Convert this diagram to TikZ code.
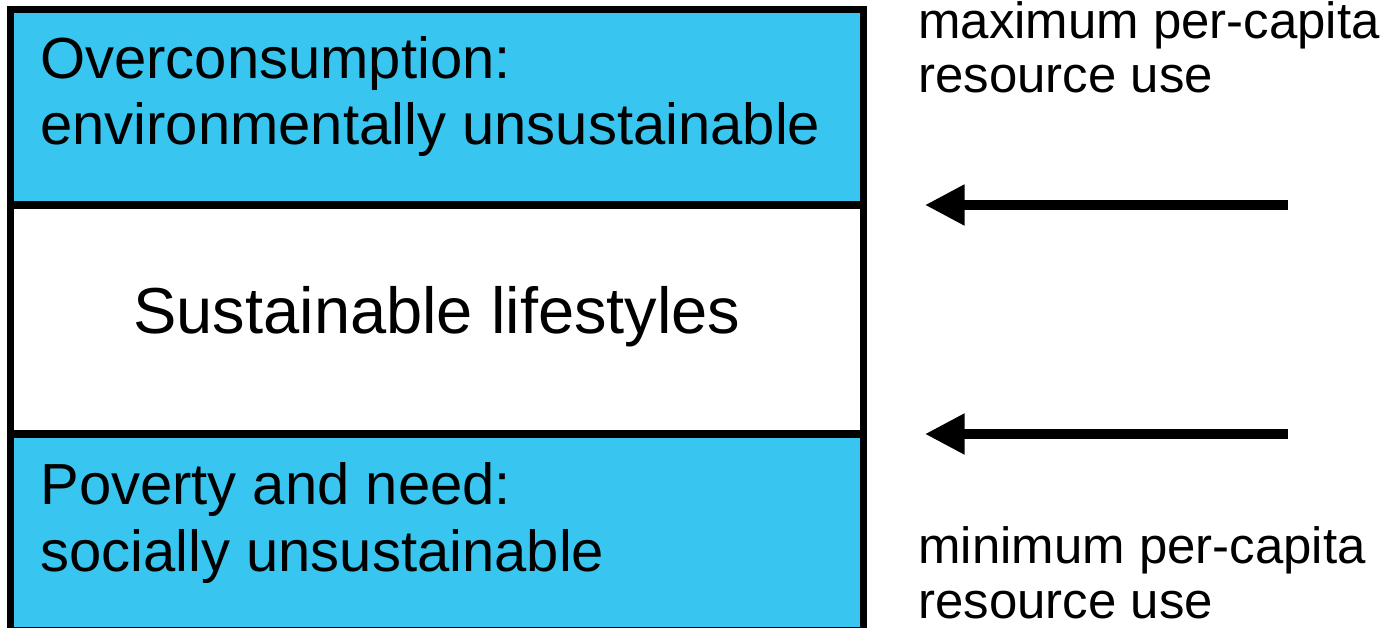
\documentclass[tikz,border=0pt]{standalone}
\usepackage{fontspec}
\setmainfont{Liberation Sans}
\usetikzlibrary{arrows.meta}
\definecolor{bandblue}{RGB}{56,197,240}
\newcommand{\Over}{Overconsumption:\\environmentally unsustainable}
\newcommand{\Sust}{Sustainable lifestyles}
\newcommand{\Pov}{Poverty and need:\\socially unsustainable}
\newcommand{\Max}{maximum per-capita\\resource use}
\newcommand{\Min}{minimum per-capita\\resource use}
\tikzset{
    band/.style={draw, line width=4pt, fill=bandblue},
    bandtext/.style={anchor=base west, align=left, inner sep=0pt,
        font=\fontsize{33}{38}\selectfont},
    sidetext/.style={anchor=base west, align=left, inner sep=0pt,
        font=\fontsize{29}{31}\selectfont},
    push/.style={line width=5.2pt, -{Triangle[length=22.5pt, width=22pt]}},
}

\begin{document}
\begin{tikzpicture}[x=0.02cm, y=-0.02cm]
    \useasboundingbox (0,0) rectangle (1389,628);
    \fill[white] (0,0) rectangle (1389,628);
    \draw[band] (10.5,9.5) rectangle (863.5,205);
    \draw[band, fill=white] (10.5,205) rectangle (863.5,434);
    \draw[band] (10.5,434) rectangle (863.5,631);
    \node[bandtext] (over) at (40,145) {\Over};
    \node[bandtext, anchor=base, font=\fontsize{37}{40}\selectfont] (sust) at (437,333) {\Sust};
    \node[bandtext] (pov) at (40,571) {\Pov};
    \node[sidetext] (max) at (918,93) {\Max};
    \node[sidetext] (min) at (918,618) {\Min};
    \coordinate (maxtail) at (1288,205);
    \coordinate (maxhead) at (925,205);
    \coordinate (mintail) at (1288,434);
    \coordinate (minhead) at (925,434);
    \draw[push] (maxtail) -- (maxhead);
    \draw[push] (mintail) -- (minhead);
\end{tikzpicture}
\end{document}
